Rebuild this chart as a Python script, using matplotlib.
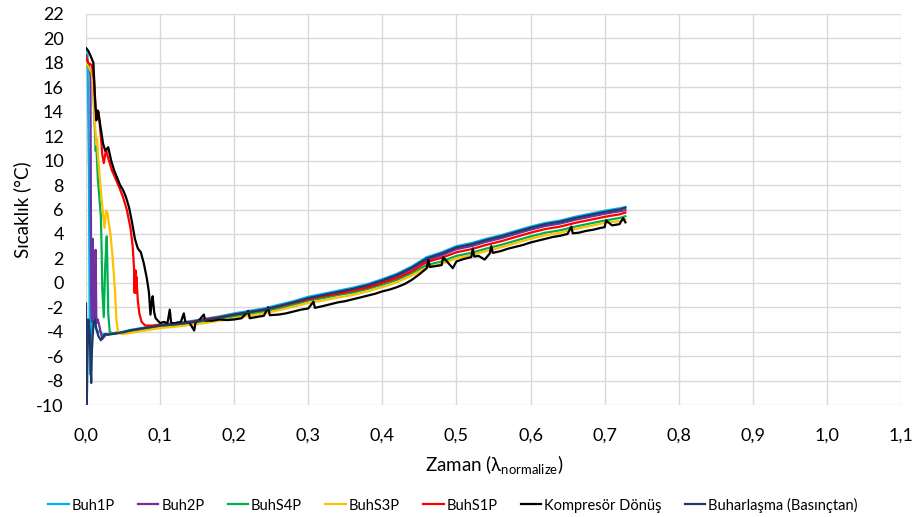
"""
Evaporator temperatures vs normalised time
"""

import matplotlib.pyplot as plt
from matplotlib.ticker import FuncFormatter, MultipleLocator

plt.rcParams['font.family'] = ['Lato', 'DejaVu Sans']
plt.rcParams['mathtext.fontset'] = 'custom'
plt.rcParams['mathtext.rm'] = 'Lato'
plt.rcParams['mathtext.it'] = 'Lato'

# shared time grid for the slow (post pull-down) part
tail_x = [0.10, 0.12, 0.14, 0.16, 0.18, 0.20, 0.22, 0.24, 0.26, 0.28,
          0.30, 0.32, 0.34, 0.36, 0.38, 0.40, 0.42, 0.44, 0.46, 0.48,
          0.50, 0.52, 0.54, 0.56, 0.58, 0.60, 0.62, 0.64, 0.66, 0.68,
          0.70, 0.72, 0.728]

# Buh1P
buh1p_x_early = [0.0, 0.002, 0.004, 0.005, 0.006, 0.007, 0.008, 0.010, 0.012, 0.015,
                 0.018, 0.022, 0.030, 0.040, 0.050, 0.060, 0.070, 0.080, 0.090]
buh1p_y_early = [19.2, 18.9, 9.0, -4.0, -7.5, -5.0, -0.5, -2.6, -3.6, -3.9,
                 -4.0, -4.2, -4.2, -4.1, -4.0, -3.85, -3.75, -3.65, -3.55]
buh1p_tail = [-3.45, -3.3, -3.15, -2.95, -2.75, -2.5, -2.3, -2.1, -1.8, -1.5,
              -1.15, -0.9, -0.65, -0.4, -0.1, 0.3, 0.75, 1.35, 2.1, 2.5,
              3.0, 3.25, 3.6, 3.9, 4.25, 4.6, 4.9, 5.1, 5.4, 5.65,
              5.9, 6.1, 6.2]

# Buh2P
buh2p_x_early = [0.0, 0.004, 0.006, 0.007, 0.008, 0.009, 0.010, 0.011, 0.012, 0.013,
                 0.014, 0.016, 0.019, 0.022, 0.026, 0.030, 0.040, 0.050, 0.060, 0.070,
                 0.080, 0.090]
buh2p_y_early = [18.3, 17.8, 17.0, -1.0, -3.2, 3.6, -2.8, -0.5, -3.0, 2.7,
                 -3.3, -3.0, -3.8, -4.6, -4.3, -4.2, -4.1, -4.05, -3.9, -3.8,
                 -3.7, -3.6]
buh2p_tail = [-3.55, -3.45, -3.3, -3.1, -2.9, -2.65, -2.45, -2.25, -1.95, -1.65,
              -1.3, -1.05, -0.8, -0.55, -0.3, 0.1, 0.55, 1.15, 1.85, 2.25,
              2.75, 3.0, 3.35, 3.65, 4.0, 4.35, 4.65, 4.85, 5.15, 5.4,
              5.65, 5.85, 5.95]

# BuhS4P
buhs4p_x_early = [0.0, 0.004, 0.008, 0.010, 0.012, 0.013, 0.014, 0.016, 0.018, 0.020,
                  0.021, 0.022, 0.024, 0.026, 0.028, 0.029, 0.030, 0.032, 0.036, 0.040,
                  0.050, 0.060, 0.070, 0.080, 0.090]
buhs4p_y_early = [17.8, 17.6, 17.0, 15.5, 12.5, 10.8, 11.2, 8.5, 7.0, 5.5,
                  3.0, -0.5, -2.8, 1.5, 3.8, 1.0, -2.5, -4.0, -4.15, -4.15,
                  -4.05, -3.95, -3.85, -3.75, -3.65]
buhs4p_tail = [-3.6, -3.45, -3.3, -3.15, -2.95, -2.75, -2.55, -2.35, -2.1, -1.8,
               -1.45, -1.25, -1.0, -0.8, -0.5, -0.15, 0.25, 0.8, 1.45, 1.75,
               2.2, 2.45, 2.8, 3.1, 3.45, 3.8, 4.1, 4.3, 4.6, 4.85,
               5.1, 5.3, 5.45]

# BuhS3P
buhs3p_x_early = [0.0, 0.004, 0.008, 0.010, 0.012, 0.014, 0.015, 0.016, 0.018, 0.020,
                  0.023, 0.025, 0.027, 0.029, 0.031, 0.033, 0.036, 0.039, 0.041, 0.043,
                  0.046, 0.050, 0.060, 0.070, 0.080, 0.090]
buhs3p_y_early = [18.0, 17.6, 17.2, 15.5, 13.0, 11.3, 11.8, 10.5, 9.0, 7.6,
                  5.6, 4.5, 5.9, 5.7, 4.8, 4.0, 2.0, -0.5, -3.0, -3.9,
                  -4.15, -4.2, -4.1, -4.0, -3.9, -3.8]
buhs3p_tail = [-3.7, -3.6, -3.45, -3.3, -3.1, -2.9, -2.7, -2.5, -2.25, -1.95,
               -1.65, -1.45, -1.2, -1.0, -0.7, -0.35, 0.05, 0.6, 1.25, 1.55,
               2.0, 2.25, 2.6, 2.9, 3.25, 3.6, 3.9, 4.1, 4.4, 4.65,
               4.9, 5.05, 5.2]

# BuhS1P
buhs1p_x_early = [0.0, 0.003, 0.008, 0.011, 0.013, 0.015, 0.017, 0.020, 0.022, 0.024,
                  0.027, 0.030, 0.035, 0.040, 0.045, 0.050, 0.055, 0.060, 0.063, 0.065,
                  0.0655, 0.066, 0.0665, 0.067, 0.0675, 0.068, 0.070, 0.072, 0.075, 0.080,
                  0.085, 0.090, 0.095]
buhs1p_y_early = [18.6, 18.0, 17.8, 16.5, 14.3, 13.8, 14.0, 12.0, 10.5, 9.8,
                  10.9, 10.2, 9.2, 8.5, 7.8, 7.0, 6.0, 4.5, 3.0, 1.0,
                  -0.8, 1.0, -0.8, 1.0, -0.8, 0.5, -1.5, -2.5, -3.2, -3.5,
                  -3.5, -3.5, -3.45]
buhs1p_tail = [-3.45, -3.35, -3.2, -3.0, -2.8, -2.6, -2.4, -2.2, -1.95, -1.65,
               -1.35, -1.1, -0.9, -0.65, -0.4, 0.0, 0.4, 0.95, 1.7, 2.05,
               2.5, 2.75, 3.1, 3.4, 3.75, 4.1, 4.4, 4.6, 4.9, 5.15,
               5.4, 5.6, 5.75]

# Kompresör Dönüş (own grid, it has spikes)
komp_x = [0.0, 0.003, 0.006, 0.010, 0.012, 0.014, 0.016, 0.018, 0.020, 0.023,
          0.026, 0.030, 0.034, 0.038, 0.042, 0.046, 0.050, 0.054, 0.058, 0.062,
          0.066, 0.070, 0.074, 0.078, 0.082, 0.085, 0.087, 0.089, 0.090, 0.092,
          0.094, 0.097, 0.100, 0.105, 0.110, 0.113, 0.115, 0.120, 0.128, 0.132,
          0.134, 0.140, 0.146, 0.148, 0.152, 0.159, 0.161, 0.170, 0.180, 0.190,
          0.200, 0.210, 0.219, 0.221, 0.230, 0.240, 0.246, 0.248, 0.260, 0.270,
          0.280, 0.290, 0.300, 0.307, 0.309, 0.320, 0.330, 0.340, 0.350, 0.360,
          0.370, 0.380, 0.390, 0.400, 0.410, 0.420, 0.430, 0.440, 0.450, 0.460,
          0.462, 0.464, 0.470, 0.480, 0.482, 0.490, 0.495, 0.500, 0.510, 0.520,
          0.522, 0.524, 0.530, 0.538, 0.545, 0.547, 0.549, 0.560, 0.570, 0.580,
          0.590, 0.600, 0.610, 0.620, 0.630, 0.640, 0.650, 0.655, 0.657, 0.665,
          0.675, 0.685, 0.695, 0.700, 0.702, 0.710, 0.720, 0.725, 0.728]
komp_y = [19.2, 19.0, 18.6, 18.0, 15.2, 13.3, 14.1, 13.4, 12.6, 11.4,
          10.8, 11.1, 10.0, 9.2, 8.6, 8.0, 7.6, 7.0, 6.2, 5.0,
          3.6, 2.8, 2.5, 1.6, 0.4, -0.8, -2.6, -1.4, -1.1, -2.4,
          -2.9, -3.1, -3.3, -3.2, -3.3, -2.2, -3.3, -3.3, -3.2, -2.5,
          -3.2, -3.3, -3.9, -3.2, -3.1, -2.6, -3.1, -3.1, -3.0, -3.05,
          -3.0, -2.9, -2.3, -2.9, -2.8, -2.7, -2.0, -2.65, -2.6, -2.5,
          -2.35, -2.2, -2.1, -1.55, -2.05, -1.9, -1.75, -1.6, -1.5, -1.35,
          -1.2, -1.05, -0.9, -0.7, -0.55, -0.35, -0.1, 0.25, 0.7, 1.2,
          1.9, 1.3, 1.35, 1.45, 2.1, 1.55, 1.2, 1.75, 1.95, 2.1,
          2.8, 2.15, 2.2, 1.9, 2.4, 3.0, 2.45, 2.6, 2.8, 2.95,
          3.1, 3.3, 3.45, 3.6, 3.75, 3.85, 4.0, 4.6, 4.05, 4.1,
          4.25, 4.35, 4.5, 4.55, 5.1, 4.7, 4.8, 5.3, 4.95]

# Buharlaşma (Basınçtan)
buhar_x_early = [0.0, 0.001, 0.002, 0.003, 0.005, 0.007, 0.008, 0.010, 0.012, 0.014,
                 0.017, 0.020, 0.023, 0.026, 0.030, 0.040, 0.050, 0.060, 0.070, 0.080,
                 0.090]
buhar_y_early = [-1.7, -10.0, -6.5, -3.0, -4.0, -8.2, -5.5, -3.3, -3.0, -3.8,
                 -4.4, -4.7, -4.4, -4.2, -4.25, -4.15, -4.05, -3.9, -3.8, -3.7,
                 -3.6]
buhar_tail = [-3.5, -3.4, -3.25, -3.05, -2.85, -2.6, -2.4, -2.2, -1.9, -1.6,
              -1.25, -1.0, -0.75, -0.5, -0.2, 0.2, 0.65, 1.25, 2.0, 2.4,
              2.9, 3.15, 3.5, 3.8, 4.15, 4.5, 4.8, 5.0, 5.3, 5.55,
              5.8, 6.0, 6.15]

series = [
    ('Buh1P', buh1p_x_early + tail_x, buh1p_y_early + buh1p_tail, '#00B0F0'),
    ('Buh2P', buh2p_x_early + tail_x, buh2p_y_early + buh2p_tail, '#7030A0'),
    ('BuhS4P', buhs4p_x_early + tail_x, buhs4p_y_early + buhs4p_tail, '#00B050'),
    ('BuhS3P', buhs3p_x_early + tail_x, buhs3p_y_early + buhs3p_tail, '#FFC000'),
    ('BuhS1P', buhs1p_x_early + tail_x, buhs1p_y_early + buhs1p_tail, '#FF0000'),
    ('Kompresör Dönüş', komp_x, komp_y, '#000000'),
    ('Buharlaşma (Basınçtan)', buhar_x_early + tail_x, buhar_y_early + buhar_tail, '#203864'),
]

W, H = 918, 517
fig = plt.figure(figsize=(W / 100, H / 100), dpi=100, facecolor='white')
ax = fig.add_axes([86 / W, 1 - 405 / H, (901 - 86) / W, (405 - 14) / H])

for name, xs, ys, color in series:
    ax.plot(xs, ys, color=color, linewidth=1.6, label=name)

ax.set_xlim(0, 1.1)
ax.set_ylim(-10, 22)
ax.xaxis.set_major_locator(MultipleLocator(0.1))
ax.yaxis.set_major_locator(MultipleLocator(2))
ax.xaxis.set_major_formatter(FuncFormatter(lambda v, p: f'{v:.1f}'.replace('.', ',')))
ax.yaxis.set_major_formatter(FuncFormatter(lambda v, p: f'{v:.0f}'))

ax.grid(True, color='#D9D9D9', linewidth=1)
ax.set_axisbelow(True)
for s in ax.spines.values():
    s.set_visible(False)
ax.tick_params(axis='both', length=0, labelsize=13, colors='#000000')
ax.tick_params(axis='y', pad=16)
ax.tick_params(axis='x', pad=16)

# axis titles placed like the Excel original
fig.text(494 / W, 1 - 465 / H, 'Zaman (λ$_{\\mathrm{normalize}}$)', fontsize=13.5,
         ha='center', va='center')
fig.text(22 / W, 1 - 210 / H, 'Sıcaklık (°C)', fontsize=13.5, rotation=90,
         ha='center', va='center')

fig.legend(*ax.get_legend_handles_labels(), loc='center', bbox_to_anchor=(453 / W, 1 - 505 / H),
           ncol=7, frameon=False, fontsize=10.5, handlelength=1.4, handletextpad=0.2,
           columnspacing=1.6, borderpad=0)

plt.savefig('out.png', dpi=100, facecolor='white')
plt.close()
